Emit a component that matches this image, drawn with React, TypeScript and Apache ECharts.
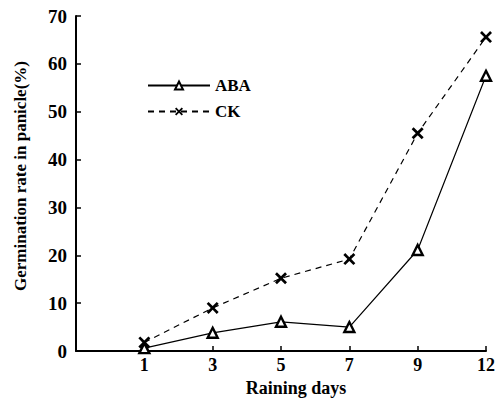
import React, { useEffect, useRef } from "react";
import * as echarts from "echarts";

const categories = ["1", "3", "5", "7", "9", "12"];
const abaValues = [0.6, 3.8, 6.1, 5.0, 21.1, 57.5];
const ckValues = [1.8, 9.0, 15.2, 19.2, 45.5, 65.6];
const yTicks = [0, 10, 20, 30, 40, 50, 60, 70];
const xTitle = "Raining days";
const yTitle = "Germination rate in panicle(%)";

const X_PATH =
  "path://M0,1.6L1.6,0L5,3.4L8.4,0L10,1.6L6.6,5L10,8.4L8.4,10L5,6.6L1.6,10L0,8.4L3.4,5Z";

export default function App() {
  const ref = useRef<HTMLDivElement>(null);
  useEffect(() => {
    if (!ref.current) return;
    const chart = echarts.init(ref.current, undefined, { renderer: "svg" });
    const font = "'Liberation Serif', 'DejaVu Serif', serif";
    chart.setOption({
      animation: false,
      backgroundColor: "#ffffff",
      textStyle: { fontFamily: font, color: "#000" },
      grid: { left: 76, top: 16, right: 12, bottom: 47, containLabel: false },
      legend: {
        orient: "vertical",
        left: 142,
        top: 72,
        itemWidth: 62,
        itemHeight: 10,
        itemGap: 9,
        textStyle: { fontFamily: font, fontSize: 17, fontWeight: "bold", color: "#000" },
        data: ["ABA", "CK"],
      },
      graphic: [
        {
          type: "text",
          x: 296,
          y: 388,
          style: {
            text: xTitle,
            fontFamily: font,
            fontSize: 18,
            fontWeight: "bold",
            fill: "#000",
            align: "center",
            verticalAlign: "middle",
          },
        },
        {
          type: "text",
          x: 20,
          y: 176,
          rotation: Math.PI / 2,
          style: {
            text: yTitle,
            fontFamily: font,
            fontSize: 17,
            fontWeight: "bold",
            fill: "#000",
            align: "center",
            verticalAlign: "middle",
          },
        },
      ],
      xAxis: {
        type: "value",
        min: 0,
        max: 6,
        interval: 1,
        splitLine: { show: false },
        axisLine: { show: true, lineStyle: { color: "#000", width: 2 } },
        axisTick: { show: true, inside: true, length: 5, lineStyle: { color: "#000", width: 1.5 } },
        axisLabel: {
          fontFamily: font,
          fontSize: 18,
          fontWeight: "bold",
          color: "#000",
          margin: 5,
          formatter: (v: number) => (v >= 1 && v <= categories.length ? categories[v - 1] : ""),
        },
      },
      yAxis: {
        type: "value",
        min: 0,
        max: 70,
        interval: 10,
        splitLine: { show: false },
        axisLine: { show: true, lineStyle: { color: "#000", width: 2 } },
        axisTick: { show: true, inside: true, length: 5, lineStyle: { color: "#000", width: 1.5 } },
        axisLabel: {
          fontFamily: font,
          fontSize: 19,
          fontWeight: "bold",
          color: "#000",
          margin: 9,
          formatter: (v: number) => (yTicks.includes(v) ? String(v) : ""),
        },
      },
      series: [
        {
          name: "ABA",
          type: "line",
          data: abaValues.map((v, i) => [i + 1, v]),
          symbol: "triangle",
          symbolSize: 10,
          lineStyle: { color: "#000", width: 1.2, type: "solid" },
          itemStyle: { color: "#fff", borderColor: "#000", borderWidth: 2.4 },
        },
        {
          name: "CK",
          type: "line",
          data: ckValues.map((v, i) => [i + 1, v]),
          symbol: X_PATH,
          symbolSize: 12,
          lineStyle: { color: "#000", width: 1.2, type: [6, 5] },
          itemStyle: { color: "#000", borderWidth: 0 },
        },
      ],
    });
    return () => chart.dispose();
  }, []);
  return (
    <div
      ref={ref}
      style={{ position: "fixed", left: 0, top: 0, width: 498, height: 398, background: "#fff" }}
    />
  );
}
